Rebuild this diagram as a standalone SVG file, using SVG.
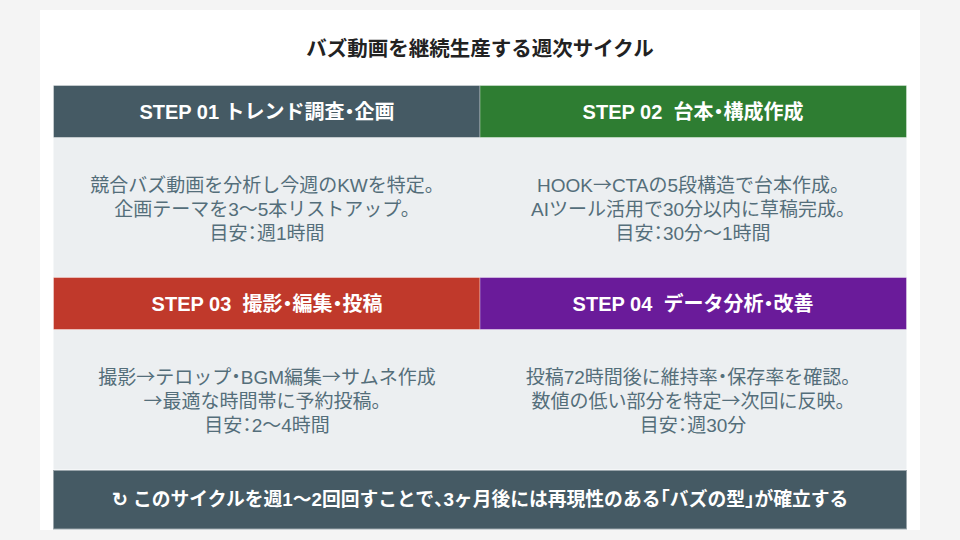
<svg xmlns="http://www.w3.org/2000/svg" width="960" height="540" viewBox="0 0 960 540">
<style>
text{font-family:"Liberation Sans","Noto Sans CJK JP",sans-serif;text-anchor:middle}
.title{font-size:20.5px;font-weight:bold;fill:#222}
.hd{font-size:20px;font-weight:bold;fill:#fff}
.body{font-size:19px;fill:#546e7a}
.bg{fill:#eceff1}
.edge{stroke:#fff;stroke-opacity:0.35;stroke-width:1}
.foot{font-size:18.8px;font-weight:bold;fill:#fff}
.h{font-family:"Noto Sans CJK JP",sans-serif;font-feature-settings:"halt"}
.ar{font-family:"Noto Sans CJK JP",sans-serif}
</style>
<rect x="0" y="0" width="960" height="540" fill="#f4f4f4"/>
<rect x="40" y="10" width="880" height="520" fill="#fff"/>
<text class="title" x="480" y="56">バズ動画を継続生産する週次サイクル</text>
<g id="step01">
<rect x="53.5" y="85.5" width="426.5" height="52" fill="#455a64" class="edge"/>
<text class="hd" x="267" y="118.5">STEP 01 トレンド調査<tspan class="h">・</tspan>企画</text>
<rect x="53.5" y="138" width="426.5" height="139.5" class="bg"/>
<text class="body" x="267" y="192">競合バズ動画を分析し今週のKWを特定。</text>
<text class="body" x="267" y="216">企画テーマを3〜5本リストアップ。</text>
<text class="body" x="267" y="240">目安<tspan class="h">：</tspan>週1時間</text>
</g>
<g id="step02">
<rect x="480" y="85.5" width="426.5" height="52" fill="#2e7d32" class="edge"/>
<text class="hd" x="693" y="118.5">STEP 02 &#160;台本<tspan class="h">・</tspan>構成作成</text>
<rect x="480" y="138" width="426.5" height="139.5" class="bg"/>
<text class="body" x="693" y="192">HOOK<tspan class="ar">→</tspan>CTAの5段構造で台本作成。</text>
<text class="body" x="693" y="216">AIツール活用で30分以内に草稿完成。</text>
<text class="body" x="693" y="240">目安<tspan class="h">：</tspan>30分〜1時間</text>
</g>
<g id="step03">
<rect x="53.5" y="277.5" width="426.5" height="52" fill="#c0392b" class="edge"/>
<text class="hd" x="267" y="310.5">STEP 03 &#160;撮影<tspan class="h">・</tspan>編集<tspan class="h">・</tspan>投稿</text>
<rect x="53.5" y="330" width="426.5" height="139.5" class="bg"/>
<text class="body" x="267" y="384">撮影<tspan class="ar">→</tspan>テロップ<tspan class="h">・</tspan>BGM編集<tspan class="ar">→</tspan>サムネ作成</text>
<text class="body" x="267" y="408"><tspan class="ar">→</tspan>最適な時間帯に予約投稿。</text>
<text class="body" x="267" y="432">目安<tspan class="h">：</tspan>2〜4時間</text>
</g>
<g id="step04">
<rect x="480" y="277.5" width="426.5" height="52" fill="#6a1b9a" class="edge"/>
<text class="hd" x="693" y="310.5">STEP 04 &#160;データ分析<tspan class="h">・</tspan>改善</text>
<rect x="480" y="330" width="426.5" height="139.5" class="bg"/>
<text class="body" x="693" y="384">投稿72時間後に維持率<tspan class="h">・</tspan>保存率を確認。</text>
<text class="body" x="693" y="408">数値の低い部分を特定<tspan class="ar">→</tspan>次回に反映。</text>
<text class="body" x="693" y="432">目安<tspan class="h">：</tspan>週30分</text>
</g>
<g id="summary">
<rect x="53.5" y="470.5" width="853" height="58.5" fill="#455a64" stroke="#9aa5ab" stroke-width="1"/>
<text class="foot" x="480" y="505.5">↻ このサイクルを週1〜2回回すことで<tspan class="h">、</tspan>3ヶ月後には再現性のある<tspan class="h">「</tspan>バズの型<tspan class="h">」</tspan>が確立する</text>
</g>
<g id="connectors"/>
</svg>
